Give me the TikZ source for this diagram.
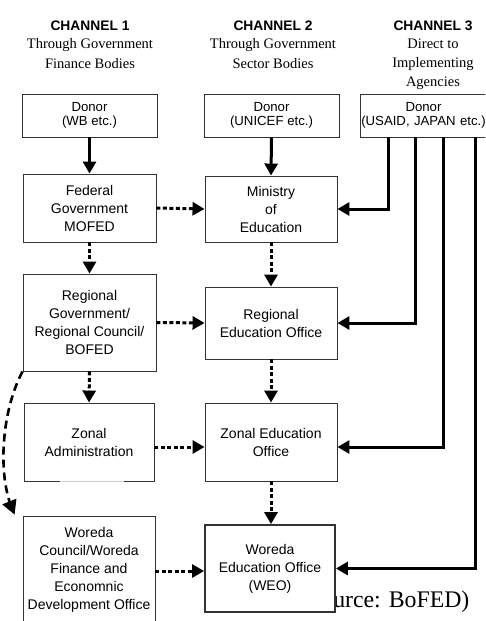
\documentclass[tikz,border=0pt]{standalone}
\usepackage{fontspec}
\setmainfont{Liberation Serif}
\setsansfont{Liberation Sans}
\usetikzlibrary{arrows.meta,calc}
\begin{document}
\begin{tikzpicture}[x=1pt,y=-1pt,
  box/.style={draw=black!80, line width=0.9pt, fill=white, align=center,
    font=\fontsize{14}{18}\selectfont\sffamily, inner sep=0pt},
  donorbox/.style={box, font=\fontsize{13.2}{13.5}\selectfont\sffamily,
    minimum height=43pt},
  hdrb/.style={font=\fontsize{13.8}{16}\selectfont\sffamily\bfseries, anchor=base, inner sep=0pt},
  hdr/.style={font=\fontsize{14.5}{18}\selectfont\rmfamily, anchor=base, inner sep=0pt},
  solidarr/.style={line width=3pt, -{Triangle[length=12pt,width=13pt]}},
  dotarr/.style={line width=3pt, dash pattern=on 4pt off 2.5pt, -{Triangle[length=12pt,width=13pt]}},
  dashln/.style={line width=2.6pt, dash pattern=on 8pt off 5pt},
  tiponly/.style={line width=1pt, -{Triangle[length=14pt,width=15pt]}}
]
\useasboundingbox (0,0) rectangle (485,621);
\clip (0,0) rectangle (485,621);

% headers
\node[hdrb] (h1) at (90,30) {CHANNEL 1};
\node[hdr] (h1a) at (90,48) {Through Government};
\node[hdr] (h1b) at (90,68) {Finance Bodies};
\node[hdrb] (h2) at (273,30) {CHANNEL 2};
\node[hdr] (h2a) at (273,48) {Through Government};
\node[hdr] (h2b) at (273,68) {Sector Bodies};
\node[hdrb] (h3) at (433,30) {CHANNEL 3};
\node[hdr] (h3a) at (433,48) {Direct to};
\node[hdr] (h3b) at (433,67) {Implementing};
\node[hdr] (h3c) at (433,86) {Agencies};

% donors
\node[donorbox, minimum width=135pt] (d1) at (89.5,115.5) {Donor\\(WB etc.)};
\node[donorbox, minimum width=135pt] (d2) at (271.5,115.5) {Donor\\(UNICEF etc.)};
\node[donorbox, minimum width=127pt, text width=127pt] (d3) at (423.5,115.5) {Donor\\\makebox[0pt]{(USAID, JAPAN etc.)}};

% channel 1
\node[box, minimum width=133pt, minimum height=68pt] (fed) at (89.5,208) {Federal\\Government\\MOFED};
\node[box, minimum width=133pt, minimum height=97pt] (rg) at (89.5,322.5) {Regional\\Government/\\Regional Council/\\BOFED};
\node[box, minimum width=130pt, minimum height=78pt] (za) at (89,442) {Zonal\\Administration};
\node[box, minimum width=132pt, minimum height=107pt] (wor) at (89,569.5) {Woreda\\Council/Woreda\\Finance and\\Economnic\\Development Office};

% channel 2
\node[box, minimum width=132pt, minimum height=66pt] (min) at (271,209) {Ministry\\of\\Education};
\node[box, minimum width=132pt, minimum height=72pt] (reo) at (271,323) {Regional\\Education Office};
\node[box, minimum width=132pt, minimum height=78pt] (zeo) at (271,442) {Zonal Education\\Office};

% source text (partly hidden behind WEO box)
\node[anchor=base west, inner sep=0pt, font=\fontsize{23.8}{26}\selectfont\rmfamily] (src) at (300,607) {(Source: BoFED)};

\node[box, line width=1.8pt, minimum width=130pt, minimum height=87pt] (weo) at (270,568.5) {Woreda\\Education Office\\(WEO)};

% light gap on the bottom edge of Zonal Administration
\draw[gray!35, line width=1.2pt] ($(za.south west)+(36,0)$) -- ($(za.south west)+(100,0)$);

% solid arrows from donors
\draw[solidarr] (d1.south) -- (fed.north);
\draw[solidarr] (d2.south) -- (min.north);
\coordinate (x1) at (388,0);
\coordinate (x2) at (415,0);
\coordinate (x3) at (443,0);
\coordinate (x4) at (475,0);
\draw[solidarr] (x1 |- d3.south) |- (min.east);
\draw[solidarr] (x2 |- d3.south) |- (reo.east);
\draw[solidarr] (x3 |- d3.south) |- ($(zeo.east)+(0,5)$);
\draw[solidarr] (x4 |- d3.south) |- (weo.east);

% dotted arrows
\draw[dotarr] (fed.east) -- (min.west);
\draw[dotarr] (rg.east) -- (reo.west);
\draw[dotarr] ($(za.east)+(0,5)$) -- ($(zeo.west)+(0,5)$);
\draw[dotarr] ($(wor.east)+(0,1.5)$) -- ($(weo.west)+(0,2.5)$);
\draw[dotarr] (fed.south) -- (rg.north);
\draw[dotarr] (min.south) -- (reo.north);
\draw[dotarr] (rg.south) -- (za.north);
\draw[dotarr] (reo.south) -- (zeo.north);
\draw[dotarr] (zeo.south) -- (zeo.south |- weo.north);

% dashed curve with a solid tip
\coordinate (ctip) at ($(wor.north west)+(-8,-1)$);
\coordinate (cpre) at ($(ctip)+(-4,-10)$);
\draw[dashln] (rg.south west) .. controls (2,410) and (-2,470) .. (cpre);
\draw[tiponly] ($(ctip)+(-6,-15)$) -- (ctip);
\end{tikzpicture}
\end{document}
